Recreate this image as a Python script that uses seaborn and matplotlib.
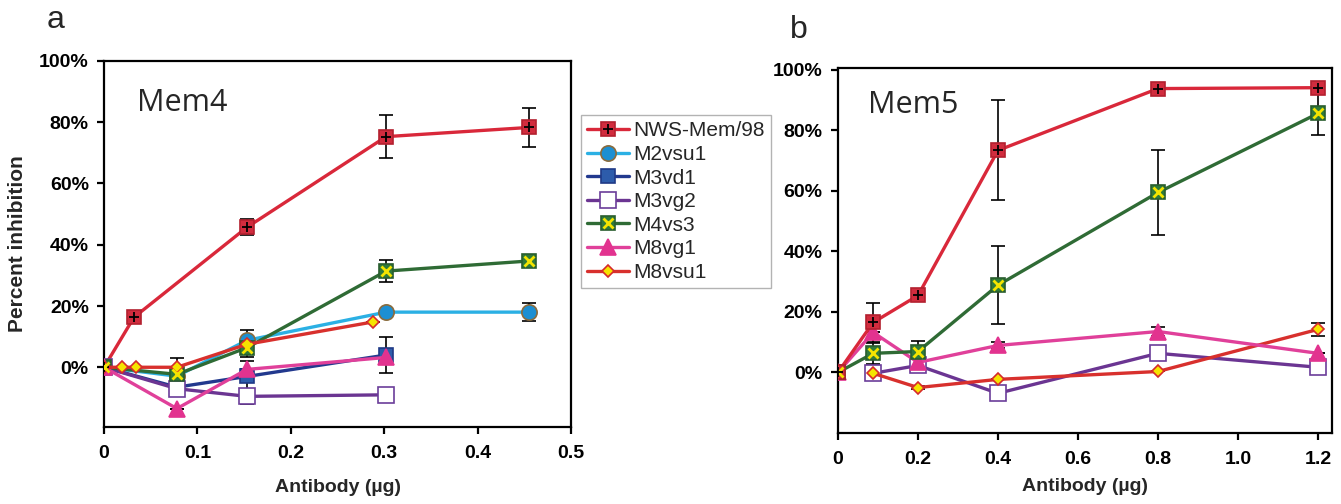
import numpy as np
import pandas as pd
import matplotlib
matplotlib.use("Agg")
import matplotlib.pyplot as plt
import seaborn as sns
from matplotlib.ticker import FuncFormatter, FixedLocator

# ---------------- data ----------------
series_names = ["NWS-Mem/98", "M2vsu1", "M3vd1", "M3vg2", "M4vs3", "M8vg1", "M8vsu1"]

# Panel a (Mem4)
a_nws_x = [0, 0.032, 0.153, 0.302, 0.455]
a_nws_y = [0, 16.3, 45.7, 75.3, 78.3]
a_nws_e = [0, 1.5, 2.6, 7.0, 6.4]
a_m2vsu1_x = [0, 0.078, 0.153, 0.302, 0.455]
a_m2vsu1_y = [0, -2.9, 8.8, 18.0, 18.0]
a_m2vsu1_e = [0, 6.0, 3.3, 0, 3.0]
a_m3vd1_x = [0, 0.078, 0.153, 0.302]
a_m3vd1_y = [0, -6.5, -3.0, 4.0]
a_m3vd1_e = [0, 0, 5.0, 6.0]
a_m3vg2_x = [0, 0.078, 0.153, 0.302]
a_m3vg2_y = [0, -7.0, -9.5, -9.0]
a_m3vg2_e = [0, 2.5, 2.5, 0]
a_m4vs3_x = [0, 0.078, 0.153, 0.302, 0.455]
a_m4vs3_y = [0, -2.3, 6.4, 31.4, 34.7]
a_m4vs3_e = [0, 0, 3.0, 3.7, 0]
a_m8vg1_x = [0, 0.078, 0.153, 0.302]
a_m8vg1_y = [0, -13.5, -0.7, 3.2]
a_m8vg1_e = [0, 0, 0, 0]
a_m8vsu1_x = [0, 0.0196, 0.034, 0.078, 0.153, 0.288]
a_m8vsu1_y = [0, 0, 0, 0, 7.5, 14.8]
a_m8vsu1_e = [0, 0, 0, 0, 0, 0]

# Panel b (Mem5)
b_nws_x = [0, 0.088, 0.2, 0.4, 0.8, 1.2]
b_nws_y = [0, 16.5, 25.4, 73.3, 93.7, 94.0]
b_nws_e = [0, 6.3, 0, 16.5, 1.0, 1.0]
b_m4vs3_x = [0, 0.088, 0.2, 0.4, 0.8, 1.2]
b_m4vs3_y = [0, 6.3, 6.9, 28.8, 59.4, 85.5]
b_m4vs3_e = [0, 3.5, 3.5, 12.9, 14.0, 7.0]
b_m8vg1_x = [0, 0.088, 0.2, 0.4, 0.8, 1.2]
b_m8vg1_y = [0, 13.2, 3.3, 8.9, 13.5, 6.3]
b_m8vg1_e = [0, 0, 0, 1.0, 1.5, 0]
b_m3vg2_x = [0.088, 0.2, 0.4, 0.8, 1.2]
b_m3vg2_y = [-0.3, 2.3, -6.9, 6.3, 1.7]
b_m3vg2_e = [0, 0, 0, 0, 0]
b_m8vsu1_x = [0.088, 0.2, 0.4, 0.8, 1.2]
b_m8vsu1_y = [-0.3, -5.0, -2.3, 0.3, 14.2]
b_m8vsu1_e = [0, 0.5, 0, 0, 2.2]

a_xticks = [0, 0.1, 0.2, 0.3, 0.4, 0.5]
a_xticklabels = ["0", "0.1", "0.2", "0.3", "0.4", "0.5"]
b_xticks = [0, 0.2, 0.4, 0.6, 0.8, 1.0, 1.2]
b_xticklabels = ["0", "0.2", "0.4", "0.6", "0.8", "1.0", "1.2"]
yticks = [0, 20, 40, 60, 80, 100]

# ---------------- styles ----------------
styles = {
    "NWS-Mem/98": dict(line="#d9283a", marker="s", mfc="#d12c3e", mec="#b3202f", ms=10,
                       over=dict(marker="+", color="black", ms=7, mew=1.3)),
    "M2vsu1": dict(line="#2bb0e4", marker="o", mfc="#1c8fd2", mec="#8a6b3c", ms=11, over=None),
    "M3vd1": dict(line="#22398e", marker="s", mfc="#2d5cab", mec="#1f3a86", ms=10, over=None),
    "M3vg2": dict(line="#6b3592", marker="s", mfc="white", mec="#6b3d9a", ms=11, over=None),
    "M4vs3": dict(line="#2f6b35", marker="s", mfc="#2f7a3a", mec="#2a5e2f", ms=10,
                  over=dict(marker="x", color="#f4e400", ms=7, mew=2.0)),
    "M8vg1": dict(line="#e0409a", marker="^", mfc="#e2338f", mec="#e2338f", ms=11, over=None),
    "M8vsu1": dict(line="#d8302d", marker="D", mfc="#f5e400", mec="#d62a2a", ms=6, over=None),
}

sns.set_theme(style="ticks")
plt.rcParams["font.family"] = ["Liberation Sans", "DejaVu Sans"]

fig = plt.figure(figsize=(13.41, 5.04), dpi=100)
axA = fig.add_axes([0.0776, 0.1528, 0.3482, 0.7262])
axB = fig.add_axes([0.6249, 0.1409, 0.3684, 0.7242])


def draw(ax, name, xs, ys, es):
    st = styles[name]
    ax.errorbar(xs, ys, yerr=es, fmt="none", ecolor="black", elinewidth=1.2,
                capsize=5, capthick=1.2, zorder=2)
    sns.lineplot(x=xs, y=ys, ax=ax, sort=False, estimator=None, color=st["line"],
                 linewidth=2.4, marker=st["marker"], markersize=st["ms"],
                 markerfacecolor=st["mfc"], markeredgecolor=st["mec"],
                 markeredgewidth=1.2, zorder=3)
    main = ax.lines[-1]
    handle = main
    if st["over"] is not None:
        o = st["over"]
        sns.lineplot(x=xs, y=ys, ax=ax, sort=False, estimator=None, linestyle="",
                     marker=o["marker"], markersize=o["ms"], markeredgewidth=o["mew"],
                     color=o["color"], markeredgecolor=o["color"], zorder=4)
        handle = (main, ax.lines[-1])
    return handle


handles = []
handles.append(draw(axA, "NWS-Mem/98", a_nws_x, a_nws_y, a_nws_e))
handles.append(draw(axA, "M2vsu1", a_m2vsu1_x, a_m2vsu1_y, a_m2vsu1_e))
handles.append(draw(axA, "M3vd1", a_m3vd1_x, a_m3vd1_y, a_m3vd1_e))
handles.append(draw(axA, "M3vg2", a_m3vg2_x, a_m3vg2_y, a_m3vg2_e))
handles.append(draw(axA, "M4vs3", a_m4vs3_x, a_m4vs3_y, a_m4vs3_e))
handles.append(draw(axA, "M8vg1", a_m8vg1_x, a_m8vg1_y, a_m8vg1_e))
handles.append(draw(axA, "M8vsu1", a_m8vsu1_x, a_m8vsu1_y, a_m8vsu1_e))

draw(axB, "M3vg2", b_m3vg2_x, b_m3vg2_y, b_m3vg2_e)
draw(axB, "M8vsu1", b_m8vsu1_x, b_m8vsu1_y, b_m8vsu1_e)
draw(axB, "M8vg1", b_m8vg1_x, b_m8vg1_y, b_m8vg1_e)
draw(axB, "M4vs3", b_m4vs3_x, b_m4vs3_y, b_m4vs3_e)
draw(axB, "NWS-Mem/98", b_nws_x, b_nws_y, b_nws_e)

pct = FuncFormatter(lambda v, p: f"{v:.0f}%")
for ax, xt, xtl, xlim, ylim, lp in [
    (axA, a_xticks, a_xticklabels, (0, 0.5), (-19.5, 100), 12),
    (axB, b_xticks, b_xticklabels, (0, 1.235), (-20, 100.5), 7),
]:
    ax.set_xlim(*xlim)
    ax.set_ylim(*ylim)
    ax.xaxis.set_major_locator(FixedLocator(xt))
    ax.set_xticklabels(xtl)
    ax.yaxis.set_major_locator(FixedLocator(yticks))
    ax.yaxis.set_major_formatter(pct)
    for s in ax.spines.values():
        s.set_visible(True)
        s.set_color("black")
        s.set_linewidth(1.6)
    ax.tick_params(axis="both", direction="out", length=5, width=1.6, color="black",
                   labelsize=14, labelcolor="black")
    ax.tick_params(axis="x", pad=8)
    ax.tick_params(axis="y", pad=6)
    for lab in ax.get_xticklabels() + ax.get_yticklabels():
        lab.set_fontweight("bold")
    ax.set_xlabel("Antibody (µg)", fontsize=14, fontweight="bold", labelpad=lp)
    ax.set_ylabel("")
    ax.legend_ = None

axA.set_ylabel("Percent inhibition", fontsize=15, fontweight="bold", labelpad=9)

axA.text(0.071, 0.885, "Mem4", transform=axA.transAxes, fontsize=22,
         family=["Open Sans", "DejaVu Sans"], va="center", ha="left")
axB.text(0.061, 0.899, "Mem5", transform=axB.transAxes, fontsize=22,
         family=["Open Sans", "DejaVu Sans"], va="center", ha="left")

fig.text(0.035, 0.944, "a", fontsize=23, va="baseline", ha="left")
fig.text(0.589, 0.925, "b", fontsize=23, va="baseline", ha="left")

leg = axA.legend(handles, series_names, loc="upper left", bbox_to_anchor=(1.021, 0.852),
                 borderaxespad=0, fontsize=15, frameon=True, fancybox=False,
                 handlelength=2.0, handletextpad=0.2, labelspacing=0.22, borderpad=0.3)
leg.get_frame().set_edgecolor("#a0a0a0")
leg.get_frame().set_linewidth(1.0)

fig.savefig("out.png", dpi=100)
